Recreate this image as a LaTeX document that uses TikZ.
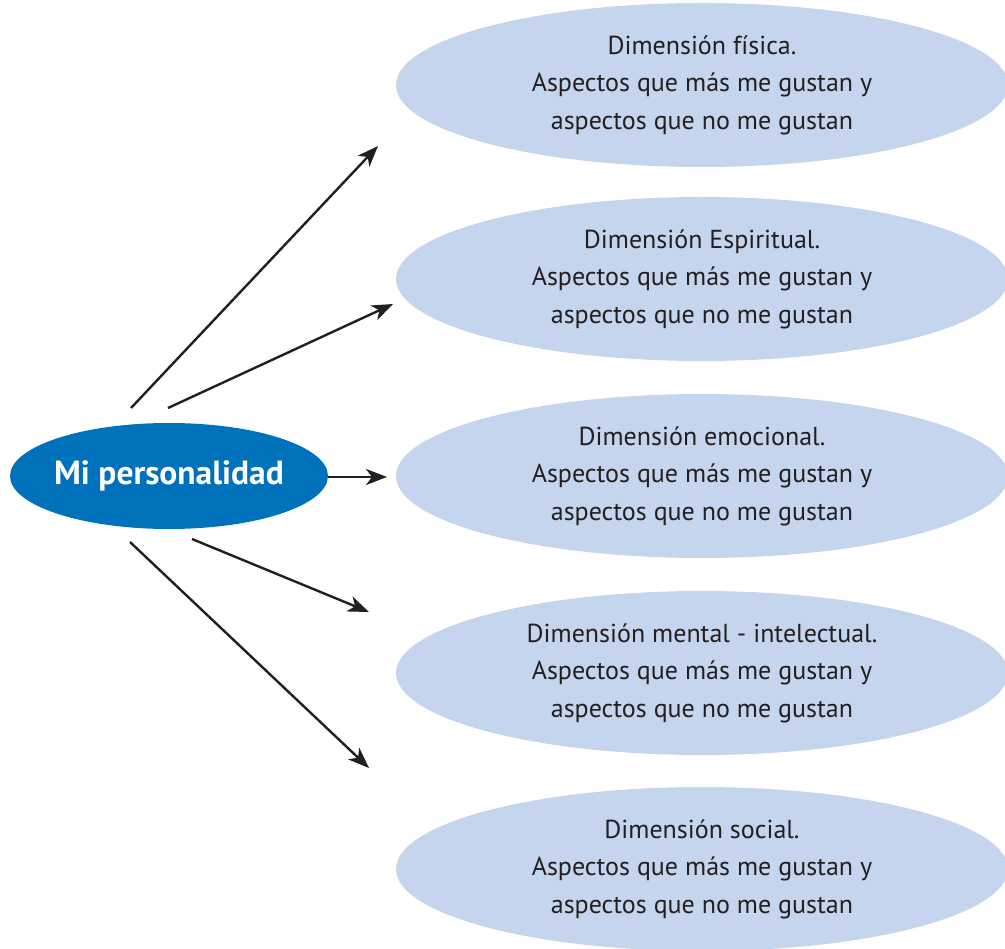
\documentclass[tikz,border=0pt]{standalone}
\usepackage{fontspec}
\setmainfont{PT Sans}
\usetikzlibrary{shapes.geometric,arrows.meta}
\definecolor{dimfill}{HTML}{C6D5EE}
\definecolor{mainblue}{HTML}{0071BB}
\definecolor{inkdark}{HTML}{231F20}
\tikzset{
  dimnode/.style={ellipse, fill=dimfill, minimum width=612pt, minimum height=164pt,
    inner sep=0pt, align=center, text=inkdark,
    font=\fontsize{26}{37.5}\selectfont},
  mainnode/.style={ellipse, fill=mainblue, minimum width=318pt, minimum height=106pt,
    inner xsep=-12pt, inner ysep=0pt, text=white, font=\fontsize{33.5}{38}\selectfont\bfseries},
  conn/.style={draw=inkdark, line width=2.4pt,
    -{Stealth[length=21pt,width=16pt,inset=6pt]}}
}
\begin{document}
\begin{tikzpicture}[x=1pt,y=-1pt]
\useasboundingbox (0,0) rectangle (1005,949);
\node[mainnode] (main) at (169,476) {Mi personalidad};
\node[dimnode] (d1) at (702,85) {Dimensión física.\\Aspectos que más me gustan y\\aspectos que no me gustan};
\node[dimnode] (d2) at (702,279) {Dimensión Espiritual.\\Aspectos que más me gustan y\\aspectos que no me gustan};
\node[dimnode] (d3) at (702,476) {Dimensión emocional.\\Aspectos que más me gustan y\\aspectos que no me gustan};
\node[dimnode] (d4) at (702,673) {Dimensión mental - intelectual.\\Aspectos que más me gustan y\\aspectos que no me gustan};
\node[dimnode] (d5) at (702,869) {Dimensión social.\\Aspectos que más me gustan y\\aspectos que no me gustan};
\coordinate (s1) at (131,408);
\coordinate (e1) at (378,146);
\coordinate (s2) at (168,408);
\coordinate (e2) at (393,304);
\coordinate (s3) at (328,477);
\coordinate (e3) at (387,477);
\coordinate (s4) at (192,539);
\coordinate (e4) at (369,612);
\coordinate (s5) at (130,542);
\coordinate (e5) at (369,768);
\draw[conn] (s1) -- (e1);
\draw[conn] (s2) -- (e2);
\draw[conn] (s3) -- (e3);
\draw[conn] (s4) -- (e4);
\draw[conn] (s5) -- (e5);
\end{tikzpicture}
\end{document}
